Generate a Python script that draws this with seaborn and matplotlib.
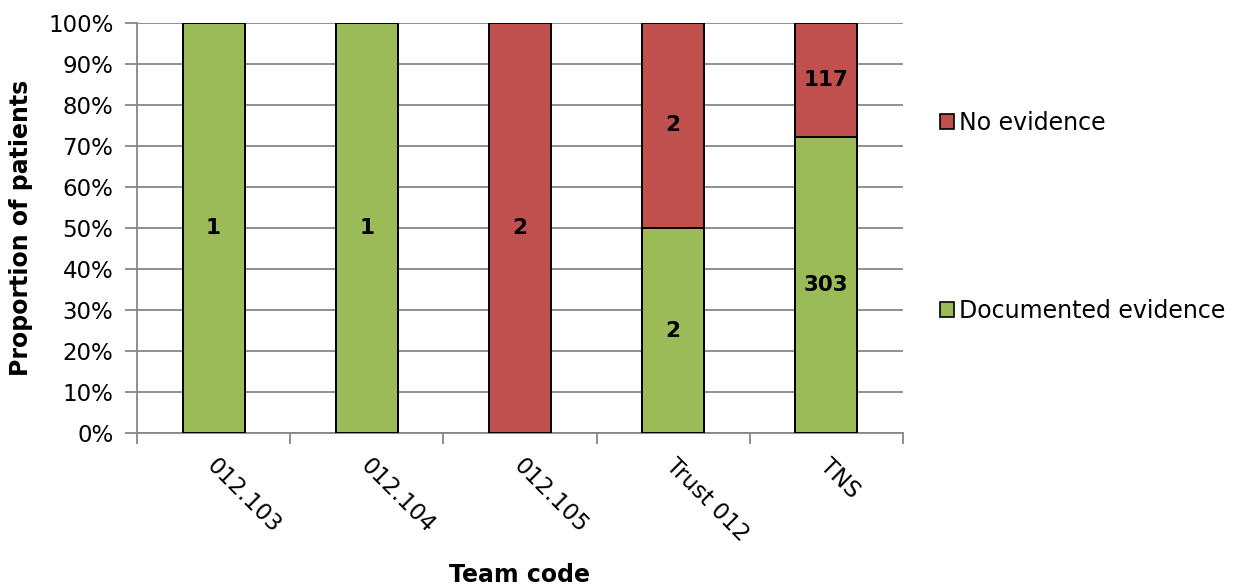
import matplotlib
matplotlib.use("Agg")
import matplotlib.pyplot as plt
import matplotlib.ticker as mticker
import matplotlib.transforms as mtransforms
from matplotlib.patches import Patch
import numpy as np
import pandas as pd
import seaborn as sns

# Patient counts per team
teams = ["012.103", "012.104", "012.105", "Trust 012", "TNS"]
documented = [1, 1, 0, 2, 303]
no_evidence = [0, 0, 2, 2, 117]

GREEN = "#9BBB59"
RED = "#C0504D"
GRID = "#878787"

sns.set_theme(style="white")
plt.rcParams["font.family"] = ["DejaVu Sans"]
plt.rcParams["text.color"] = "black"
plt.rcParams["axes.labelcolor"] = "black"
plt.rcParams["xtick.color"] = "black"
plt.rcParams["ytick.color"] = "black"

df = pd.DataFrame({"team": teams, "doc": documented, "none": no_evidence})
df["total"] = df["doc"] + df["none"]
df["doc_pct"] = df["doc"] / df["total"] * 100
df["none_pct"] = df["none"] / df["total"] * 100
df["top_pct"] = df["doc_pct"] + df["none_pct"]

fig = plt.figure(figsize=(12.36, 5.88), dpi=100)
ax = fig.add_axes([0.1108, 0.2636, 0.6198, 0.6973])

width = 0.405
# Full stack in red, documented share drawn over it in green
sns.barplot(data=df, x="team", y="top_pct", color=RED, width=width,
            edgecolor="black", linewidth=1.4, saturation=1, ax=ax, zorder=3)
sns.barplot(data=df[df["doc"] > 0].reindex(df.index), x="team", y="doc_pct",
            color=GREEN, width=width, edgecolor="black", linewidth=1.4,
            saturation=1, ax=ax, zorder=4)

# Count labels in the middle of each segment
for i, row in df.iterrows():
    if row["doc"] > 0:
        ax.text(i, row["doc_pct"] / 2, f"{row['doc']}", ha="center", va="center",
                fontsize=15.5, fontweight="bold", color="black", zorder=5)
    if row["none"] > 0:
        ax.text(i, row["doc_pct"] + row["none_pct"] / 2, f"{row['none']}",
                ha="center", va="center", fontsize=15.5, fontweight="bold",
                color="black", zorder=5)

ax.set_xlim(-0.5, len(teams) - 0.5)
ax.set_ylim(0, 100)
ax.yaxis.set_major_locator(mticker.MultipleLocator(10))
ax.yaxis.set_major_formatter(mticker.FuncFormatter(lambda v, _: f"{v:.0f}%"))
ax.grid(axis="y", color=GRID, linewidth=1.3, zorder=0)
ax.set_axisbelow(True)

for side in ["top", "right"]:
    ax.spines[side].set_visible(False)
for side in ["left", "bottom"]:
    ax.spines[side].set_color(GRID)
    ax.spines[side].set_linewidth(1.3)

# Category boundary ticks on x, labels centred under each bar
ax.set_xticks(np.arange(-0.5, len(teams), 1.0))
ax.set_xticklabels([])
ax.tick_params(axis="x", which="major", length=8, width=1.3, color=GRID,
               direction="out", bottom=True)
ax.set_xticks(np.arange(len(teams)), minor=True)
ax.set_xticklabels(teams, minor=True, rotation=-45, ha="left",
                   rotation_mode="anchor", fontsize=16.5)
ax.tick_params(axis="x", which="minor", length=0, pad=15)
ax.tick_params(axis="y", length=9, width=1.3, color=GRID, direction="out",
               left=True, labelsize=16.5, pad=8)
shift = mtransforms.ScaledTranslation(5 / 100, 0, fig.dpi_scale_trans)
for lbl in ax.get_xticklabels(minor=True):
    lbl.set_transform(lbl.get_transform() + shift)

ax.set_xlabel("Team code", fontsize=17, fontweight="bold")
ax.set_ylabel("Proportion of patients", fontsize=17, fontweight="bold")
ax.xaxis.set_label_coords(0.5, -0.316)
ax.yaxis.set_label_coords(-0.136, 0.5)

handles = [Patch(facecolor=RED, edgecolor="black", linewidth=1.2, label="No evidence"),
           Patch(facecolor=GREEN, edgecolor="black", linewidth=1.2, label="Documented evidence")]
fig.legend(handles=handles, loc="upper left", bbox_to_anchor=(0.753, 0.827),
           frameon=False, fontsize=17, handlelength=0.6, handleheight=0.6,
           handletextpad=0.2, labelspacing=6.95, borderaxespad=0)

fig.savefig("out.png", dpi=100)
